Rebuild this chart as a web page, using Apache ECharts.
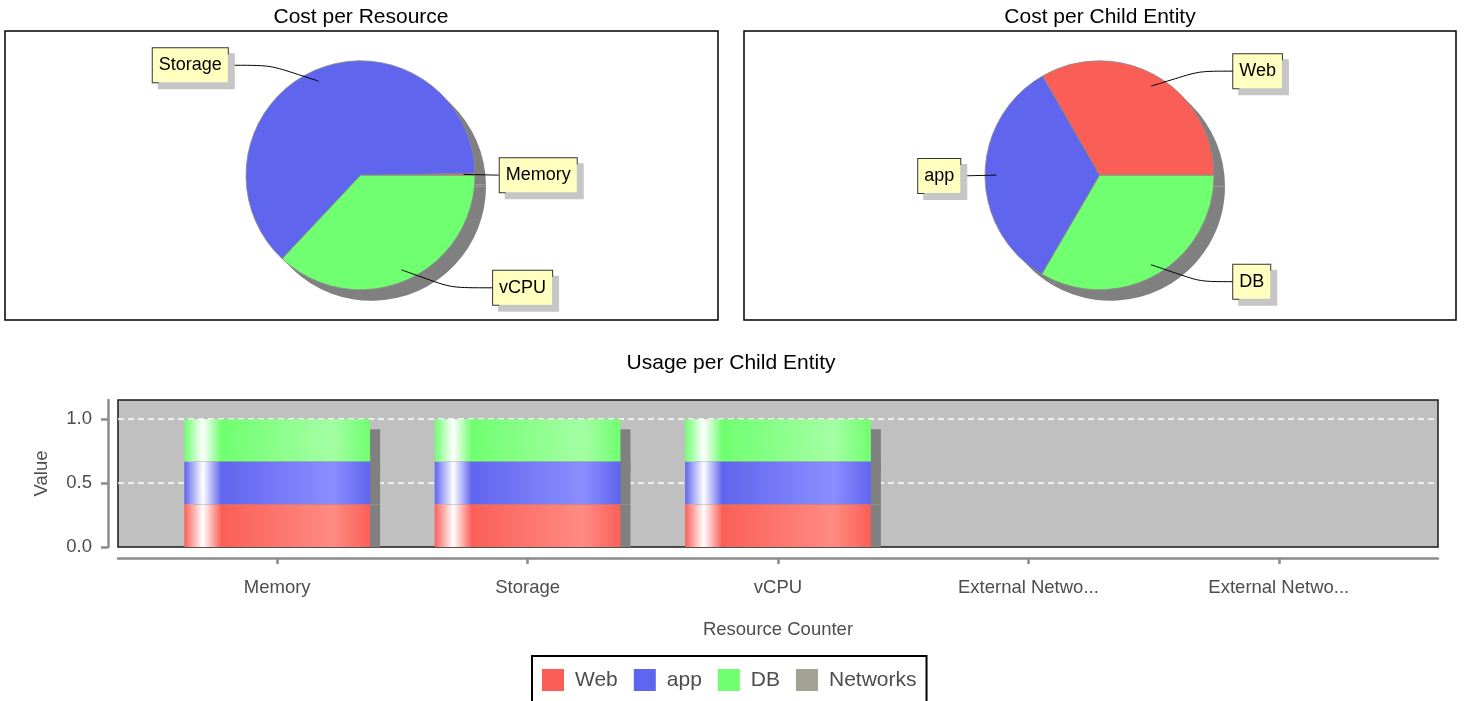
<!DOCTYPE html>
<html>
<head>
<meta charset="utf-8">
<script src="https://cdn.jsdelivr.net/npm/echarts@6/dist/echarts.min.js"></script>
<style>
  html, body { margin: 0; padding: 0; background: #fff; }
  #chart { width: 1464px; height: 701px; }
</style>
</head>
<body>
<div id="chart"></div>
<script>
// ---------------- data ----------------
const resourceNames = ['Memory', 'Storage', 'vCPU'];
const resourceCost = [0.3, 62.7, 37.0];

const childNames = ['Web', 'app', 'DB'];
const childCost = [33.3, 33.3, 33.4];

const usageCategories = ['Memory', 'Storage', 'vCPU', 'External Netwo...', 'External Netwo...'];
const webUsage = [0.333, 0.333, 0.333, 0, 0];
const appUsage = [0.333, 0.333, 0.333, 0, 0];
const dbUsage = [0.334, 0.334, 0.334, 0, 0];
const networksUsage = [0, 0, 0, 0, 0];

const legendNames = ['Web', 'app', 'DB', 'Networks'];
const yTickValues = [0, 0.5, 1.0];

// ---------------- style ----------------
const FONT = '"Liberation Sans", Arial, Helvetica, sans-serif';
const RED = '#FA5F57', BLUE = '#6065EE', GREEN = '#70FF70', GRAYN = '#A3A393';
const RED_L = '#FF8B82', BLUE_L = '#8A8EFF', GREEN_L = '#A4FFA4', GRAYN_L = '#C4C4B8';
const AXIS = '#8c8c8c', TXT = '#4d4d4d';

const PIE_R = 114.5;
const PIE_A = [360.5, 175.3];
const PIE_B = [1099.5, 175.3];
const SHADOW = 11;

function grad(base, light) {
  return new echarts.graphic.LinearGradient(0, 0, 1, 0, [
    { offset: 0, color: base },
    { offset: 0.1, color: '#ffffff' },
    { offset: 0.2, color: base },
    { offset: 0.8, color: light },
    { offset: 1, color: base }
  ]);
}

function toPieData(names, vals) {
  return names.map((n, i) => ({ name: n, value: vals[i] }));
}

function makeLabelLayout(c) {
  return function (params) {
    const pts = params.labelLinePoints;
    if (!pts) return {};
    const p0 = pts[0];
    const dx = p0[0] - c[0], dy = p0[1] - c[1];
    const len = Math.hypot(dx, dy) || 1;
    const cos = dx / len, sin = dy / len;
    const dir = cos >= 0 ? 1 : -1;
    const start = [c[0] + cos * PIE_R * 0.9, c[1] + sin * PIE_R * 0.9];
    const ly = params.labelRect.y + params.labelRect.height / 2 + 1;
    const x = c[0] + dir * (PIE_R * 1.12 + 11 * Math.abs(cos));
    const p1 = [start[0] + dir * 22, ly];
    return { x: x, y: ly, labelLinePoints: [start, p1, [x, ly]] };
  };
}

const pieLabel = {
  show: true,
  position: 'outside',
  formatter: '{b}',
  fontFamily: FONT,
  fontSize: 18,
  lineHeight: 20,
  color: '#000',
  backgroundColor: '#FFFFC0',
  borderColor: '#333',
  borderWidth: 1,
  padding: [7, 6, 7, 6],
  shadowColor: '#C6C6C6',
  shadowOffsetX: 6,
  shadowOffsetY: 6,
  shadowBlur: 0
};

function mainPie(c, names, vals) {
  return {
    type: 'pie', center: c, radius: PIE_R, startAngle: 0, clockwise: false,
    z: 3, avoidLabelOverlap: false, animation: false, silent: true,
    color: [RED, BLUE, GREEN],
    data: toPieData(names, vals),
    itemStyle: { borderColor: '#8a8a8a', borderWidth: 0.8 },
    label: { show: false }, labelLine: { show: false },
    emphasis: { disabled: true }
  };
}

// transparent copy on top that carries the callout labels so their lines sit above the slices
function labelPie(c, names, vals) {
  return {
    type: 'pie', center: c, radius: PIE_R, startAngle: 0, clockwise: false,
    z: 5, avoidLabelOverlap: false, animation: false, silent: true,
    data: toPieData(names, vals),
    itemStyle: { color: 'rgba(0,0,0,0)', borderWidth: 0 },
    label: pieLabel,
    labelLine: { show: true, showAbove: true, length: 7, length2: 10, smooth: 1, lineStyle: { color: '#000', width: 1 } },
    labelLayout: makeLabelLayout(c),
    emphasis: { disabled: true }
  };
}

function shadowPie(c, names, vals) {
  return {
    type: 'pie', center: [c[0] + SHADOW, c[1] + SHADOW], radius: PIE_R, startAngle: 0, clockwise: false,
    z: 1, silent: true, animation: false,
    data: toPieData(names, vals),
    itemStyle: { color: '#808080', borderWidth: 0 },
    label: { show: false }, labelLine: { show: false },
    emphasis: { disabled: true }, tooltip: { show: false }
  };
}

function barSeries(name, data, base, light, z, offY) {
  return {
    type: 'bar', name: name, stack: 'usage', xAxisIndex: 1, yAxisIndex: 1,
    data: data, barWidth: '74.2%', z: z,
    itemStyle: { color: grad(base, light), shadowColor: '#808080', shadowOffsetX: 10, shadowOffsetY: offY, shadowBlur: 0 },
    emphasis: { disabled: true }
  };
}

const titleStyle = { fontFamily: FONT, fontSize: 21, fontWeight: 'normal', color: '#000' };

const option = {
  animation: false,
  backgroundColor: '#ffffff',
  textStyle: { fontFamily: FONT },
  title: [
    { text: 'Cost per Resource', left: 361, top: 7, textAlign: 'center', padding: 0, textStyle: titleStyle },
    { text: 'Cost per Child Entity', left: 1100, top: 7, textAlign: 'center', padding: 0, textStyle: titleStyle },
    { text: 'Usage per Child Entity', left: 731, top: 353, textAlign: 'center', padding: 0, textStyle: titleStyle }
  ],
  graphic: [
    { type: 'rect', silent: true, shape: { x: 5, y: 31, width: 713, height: 289 }, style: { fill: 'none', stroke: '#000', lineWidth: 1.5 } },
    { type: 'rect', silent: true, shape: { x: 744, y: 31, width: 712, height: 289 }, style: { fill: 'none', stroke: '#000', lineWidth: 1.5 } }
  ],
  legend: {
    left: 532, top: 656, orient: 'horizontal',
    padding: [13, 10, 13, 10],
    borderColor: '#000', borderWidth: 2,
    itemWidth: 22, itemHeight: 22, itemGap: 16,
    icon: 'rect',
    itemStyle: { shadowBlur: 0, shadowOffsetX: 0, shadowOffsetY: 0, shadowColor: 'transparent', borderWidth: 0 },
    textStyle: { fontFamily: FONT, fontSize: 21, color: TXT, padding: [2, 0, 0, 6] },
    data: [
      { name: legendNames[0], itemStyle: { color: RED } },
      { name: legendNames[1], itemStyle: { color: BLUE } },
      { name: legendNames[2], itemStyle: { color: GREEN } },
      { name: legendNames[3], itemStyle: { color: GRAYN } }
    ]
  },
  grid: [
    { left: 118, right: 26, top: 400, bottom: 154, show: true, backgroundColor: '#C0C0C0', borderColor: '#1a1a1a', borderWidth: 1.5, containLabel: false, outerBoundsMode: 'none' },
    { left: 152, right: 60, top: 400, bottom: 154, containLabel: false, outerBoundsMode: 'none' }
  ],
  xAxis: [
    {
      gridIndex: 0, type: 'value', min: 0, max: 1, offset: 11,
      name: 'Resource Counter', nameLocation: 'middle', nameGap: 62,
      nameTextStyle: { fontFamily: FONT, fontSize: 18.5, color: TXT },
      axisLine: { show: true, onZero: false, lineStyle: { color: AXIS, width: 2.5 } },
      axisTick: { show: false }, axisLabel: { show: false }, splitLine: { show: false }
    },
    {
      gridIndex: 1, type: 'category', data: usageCategories, offset: 11,
      axisLine: { show: false, onZero: false },
      axisTick: { show: true, alignWithLabel: true, length: 6, lineStyle: { color: AXIS, width: 2.5 } },
      axisLabel: { show: true, interval: 0, margin: 20, fontFamily: FONT, fontSize: 18.5, color: TXT },
      splitLine: { show: false }
    }
  ],
  yAxis: [
    {
      gridIndex: 0, type: 'value', min: 0, max: 1.15, interval: 0.5, offset: 10,
      name: 'Value', nameLocation: 'middle', nameGap: 57, nameRotate: 90,
      nameTextStyle: { fontFamily: FONT, fontSize: 18.5, color: TXT },
      axisLine: { show: true, onZero: false, lineStyle: { color: AXIS, width: 2.5 } },
      axisTick: { show: true, length: 7, customValues: yTickValues, lineStyle: { color: AXIS, width: 2.5 } },
      axisLabel: {
        show: true, margin: 16, fontFamily: FONT, fontSize: 18.5, color: TXT, customValues: yTickValues,
        formatter: v => (Math.abs(v - 1.15) < 1e-6 ? '' : Number(v).toFixed(1))
      },
      splitLine: { show: true, showMinLine: false, lineStyle: { color: '#ffffff', type: [6, 4], width: 1.5 } }
    },
    {
      gridIndex: 1, type: 'value', min: 0, max: 1.15, interval: 0.5, show: false,
      splitLine: { show: false }
    }
  ],
  series: [
    shadowPie(PIE_A, resourceNames, resourceCost),
    mainPie(PIE_A, resourceNames, resourceCost),
    labelPie(PIE_A, resourceNames, resourceCost),
    shadowPie(PIE_B, childNames, childCost),
    mainPie(PIE_B, childNames, childCost),
    labelPie(PIE_B, childNames, childCost),
    barSeries('Web', webUsage, RED, RED_L, 6, 0),
    barSeries('app', appUsage, BLUE, BLUE_L, 5, 0),
    barSeries('DB', dbUsage, GREEN, GREEN_L, 4, 10),
    barSeries('Networks', networksUsage, GRAYN, GRAYN_L, 3, 10)
  ]
};

const chart = echarts.init(document.getElementById('chart'), null, { renderer: 'canvas' });
chart.setOption(option);
</script>
</body>
</html>
